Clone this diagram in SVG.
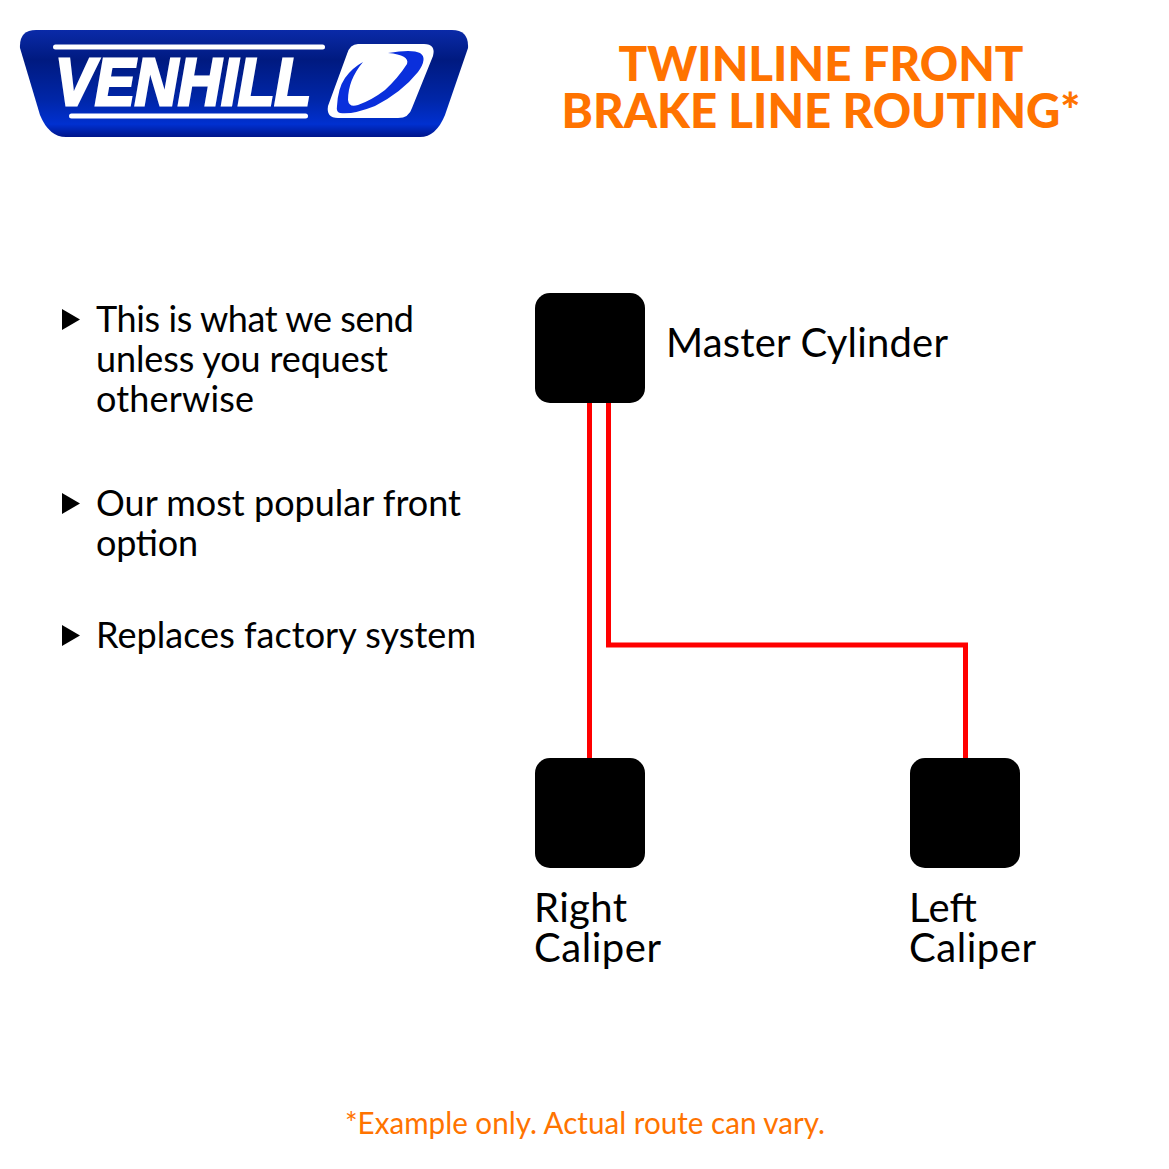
<svg xmlns="http://www.w3.org/2000/svg" width="1169" height="1169" viewBox="0 0 1169 1169">
<style>
text{font-family:Lato,"Liberation Sans",sans-serif}
.b{font-size:36px;fill:#000;lengthAdjust:spacing}
.l{font-size:40px;fill:#000}
.t{font-size:48px;font-weight:900;fill:#ff7300;text-anchor:middle}
.box{fill:#000}
.line{fill:none;stroke:#ff0000;stroke-width:5}
.tri{fill:#000}
</style>
<defs><linearGradient id="lg" x1="0" y1="0" x2="0" y2="1"><stop offset="0" stop-color="#0a2aa8"/><stop offset=".28" stop-color="#001a80"/><stop offset=".65" stop-color="#0026a8"/><stop offset=".88" stop-color="#0030d0"/><stop offset="1" stop-color="#00158a"/></linearGradient></defs>
<rect width="1169" height="1169" fill="#fff"/>
<g id="logo">
<path d="M36,30H452Q469,30 468,48L445,115Q436,137 420,137H66Q49,137 40,115L20,48Q19,30 36,30Z" fill="url(#lg)"/>
<rect x="53" y="44.500" width="272" height="5" rx="2.500" fill="#fff"/>
<rect x="69" y="113.500" width="239" height="5" rx="2.500" fill="#fff"/>
<text x="55" y="105" font-size="66" font-weight="700" font-style="italic" textLength="256" lengthAdjust="spacingAndGlyphs" stroke="#fff" stroke-width="3" style="font-family:'Liberation Sans',sans-serif" fill="#fff">VENHILL</text>
<path d="M358,44H424Q436,44 433,56L412,108Q409,118 398,118H338Q326,118 328,106L347,54Q350,44 358,44Z" fill="#fff"/>
<path d="M388,53Q412,49 420,53Q428,58 418,72Q402,92 375,106Q352,115 340,113Q336,112 337,106Q338,88 345,78Q352,68 363,62Q348,80 348,100Q349,108 358,105Q372,100 385,90Q398,78 407,64Q410,55 388,53Z" fill="#0a2fdc"/>
</g>
<g id="title"><text class="t" x="821" y="81" textLength="405" lengthAdjust="spacingAndGlyphs">TWINLINE FRONT</text><text class="t" x="821" y="128" textLength="519" lengthAdjust="spacingAndGlyphs">BRAKE LINE ROUTING*</text></g>
<g id="bullets">
<polygon class="tri" points="62,309 80,319.500 62,330"/>
<text class="b" x="96" y="332" textLength="318">This is what we send</text>
<text class="b" x="96" y="372" textLength="292">unless you request</text>
<text class="b" x="96" y="412" textLength="158">otherwise</text>
<polygon class="tri" points="62,493 80,503.500 62,514"/>
<text class="b" x="96" y="516" textLength="365">Our most popular front</text>
<text class="b" x="96" y="556" textLength="102">option</text>
<polygon class="tri" points="62,625 80,635.500 62,646"/>
<text class="b" x="96" y="648" textLength="380">Replaces factory system</text>
</g>
<g id="connectors">
<path class="line" d="M589.500,400V760"/>
<path class="line" d="M608.500,400V645H965.500V760"/>
</g>
<g id="master-cylinder"><rect class="box" x="535" y="293" width="110" height="110" rx="15"/><text class="l" x="666" y="357" textLength="282">Master Cylinder</text></g>
<g id="right-caliper"><rect class="box" x="535" y="758" width="110" height="110" rx="15"/><text class="l" x="534" y="922" textLength="93">Right</text><text class="l" x="534" y="962" textLength="127">Caliper</text></g>
<g id="left-caliper"><rect class="box" x="910" y="758" width="110" height="110" rx="15"/><text class="l" x="909" y="922" textLength="68">Left</text><text class="l" x="909" y="962" textLength="127">Caliper</text></g>
<text id="note" x="585" y="1134" font-size="30" fill="#ff7300" text-anchor="middle" textLength="480" lengthAdjust="spacingAndGlyphs">*Example only. Actual route can vary.</text>
</svg>
